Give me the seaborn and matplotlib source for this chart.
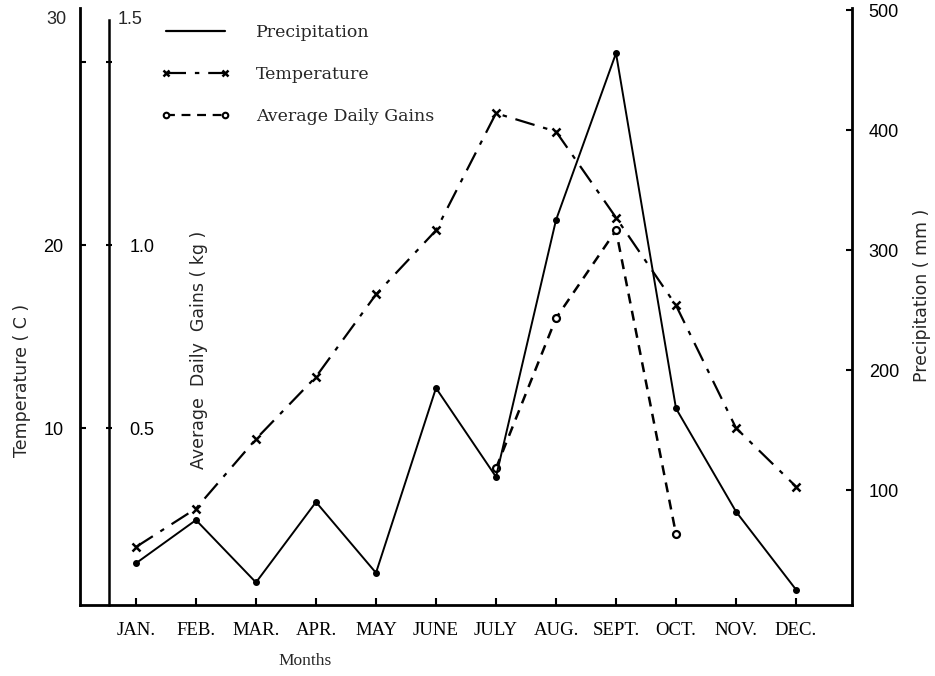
import numpy as np
import matplotlib
matplotlib.use("Agg")
import matplotlib.pyplot as plt
from matplotlib.lines import Line2D
import seaborn as sns

# values
months = ["JAN.", "FEB.", "MAR.", "APR.", "MAY", "JUNE", "JULY",
          "AUG.", "SEPT.", "OCT.", "NOV.", "DEC."]
precipitation = [39, 75, 23, 90, 31, 185, 111, 325, 464, 168, 82, 17]   # mm
temperature = [3.5, 5.6, 9.4, 12.8, 17.3, 20.8, 27.2, 26.2, 21.5, 16.7, 10.0, 6.8]  # C
adg_months = ["JULY", "AUG.", "SEPT.", "OCT."]
adg = [0.39, 0.80, 1.04, 0.21]   # kg

temp_ticks = [10, 20, 30]
temp_labels = ["10", "20", ""]
adg_ticks = [0.5, 1.0, 1.5]
adg_labels = ["0.5", "1.0", ""]
precip_ticks = [100, 200, 300, 400, 500]

sns.set_theme(style="white")
plt.rcParams["font.family"] = ["Liberation Sans", "DejaVu Sans"]
plt.rcParams["axes.edgecolor"] = "black"
plt.rcParams["xtick.color"] = "black"
plt.rcParams["ytick.color"] = "black"
serif = ["Liberation Serif", "DejaVu Serif"]
wide_sans = ["DejaVu Sans"]
wide_serif = ["DejaVu Serif"]

fig = plt.figure(figsize=(9.35, 6.76), dpi=100)
ax = fig.add_axes([80 / 935, 1 - 605 / 676, 772 / 935, 597 / 676])
ax2 = ax.twinx()   # average daily gains
ax3 = ax.twinx()   # precipitation

x = np.arange(len(months))
adg_x = [months.index(m) for m in adg_months]

sns.lineplot(x=x, y=temperature, ax=ax, color="black", linewidth=1.6,
             linestyle=(0, (9, 4, 2, 4)), marker="x", markersize=6,
             markeredgecolor="black", markeredgewidth=1.8)
sns.lineplot(x=adg_x, y=adg, ax=ax2, color="black", linewidth=1.8,
             linestyle=(0, (4, 3)), marker="o", markersize=5,
             markerfacecolor="white", markeredgecolor="black", markeredgewidth=1.6)
sns.lineplot(x=x, y=precipitation, ax=ax3, color="black", linewidth=1.4,
             marker="o", markersize=4, markeredgecolor="black", markeredgewidth=1)

ax.set_xlim(-0.933, 11.933)
ax.set_ylim(0.33, 32.95)
ax2.set_ylim(0.33 / 20, 32.95 / 20)
ax3.set_ylim(4.2, 501.7)

# temperature axis (outer left)
ax.set_xticks(x)
ax.set_xticklabels(months, family=serif, fontsize=13.5)
ax.set_yticks(temp_ticks)
ax.set_yticklabels(temp_labels, fontsize=13)
ax.tick_params(axis="x", bottom=True, direction="in", length=5, width=1.5, pad=12)
ax.tick_params(axis="y", left=True, direction="in", length=4, width=1.5, pad=12)
ax.set_xlabel("Months", family=serif, fontsize=12.5, va="center")
ax.xaxis.set_label_coords((305 - 80) / 772, -(661 - 605) / 597)
ax.set_ylabel("Temperature ( C )", family=wide_sans, fontsize=12.5,
              ha="center", va="center")
ax.yaxis.set_label_coords(-(80 - 22) / 772, (605 - 380) / 597)
ax.text(-14 / 772, 1 - 12 / 597, "30", transform=ax.transAxes,
        ha="right", va="center", fontsize=13)
for s in ["top", "right"]:
    ax.spines[s].set_visible(False)
ax.spines["left"].set_linewidth(2)
ax.spines["bottom"].set_linewidth(2)

# average daily gains axis (inner left, labels inside)
ax2.spines["right"].set_position(("axes", 29 / 772))
ax2.spines["right"].set_linewidth(1.8)
ax2.spines["right"].set_bounds(0.33 / 20, (32.95 - 0.33) / 20 - 0.015)
for s in ["top", "left", "bottom"]:
    ax2.spines[s].set_visible(False)
ax2.set_yticks(adg_ticks)
ax2.set_yticklabels(adg_labels, fontsize=13)
ax2.tick_params(axis="y", right=True, direction="inout", length=5, width=1.5, pad=12)
ax2.set_ylabel("Average  Daily  Gains ( kg )", family=wide_sans, fontsize=12.5,
               rotation=90, ha="center", va="center")
ax2.yaxis.set_label_position("right")
ax2.yaxis.set_label_coords((190 - 80) / 772, (605 - 350) / 597)
ax2.text((118 - 80) / 772, 1 - 12 / 597, "1.5", transform=ax2.transAxes,
         ha="left", va="center", fontsize=13)

# precipitation axis (right)
for s in ["top", "left", "bottom"]:
    ax3.spines[s].set_visible(False)
ax3.spines["right"].set_linewidth(2)
ax3.set_yticks(precip_ticks)
ax3.set_yticklabels([str(t) for t in precip_ticks], fontsize=13)
ax3.tick_params(axis="y", right=True, direction="in", length=4, width=1.5, pad=12)
ax3.set_ylabel("Precipitation ( mm )", family=wide_sans, fontsize=12.5,
               rotation=90, ha="center", va="center")
ax3.yaxis.set_label_coords(1 + (922 - 852) / 772, (605 - 295) / 597)

for a in (ax, ax2, ax3):
    a.grid(False)
    a.set_facecolor("none")

handles = [
    Line2D([], [], color="black", linewidth=1.6),
    Line2D([], [], color="black", linewidth=1.6, linestyle=(0, (9, 4, 2, 4)),
           marker="x", markersize=5, markeredgewidth=1.8),
    Line2D([], [], color="black", linewidth=1.6, linestyle=(0, (4, 3)),
           marker="o", markersize=4, markerfacecolor="white", markeredgewidth=1.5),
]
leg = ax3.legend(handles, ["Precipitation", "Temperature", "Average Daily Gains"],
                 loc="upper left", bbox_to_anchor=(152 / 935, 1 - 15 / 676),
                 bbox_transform=fig.transFigure, frameon=False, numpoints=2,
                 handlelength=4.0, handletextpad=1.5, labelspacing=1.45,
                 borderpad=0, prop={"family": wide_serif, "size": 12.5})

fig.savefig("out.png", dpi=100)
